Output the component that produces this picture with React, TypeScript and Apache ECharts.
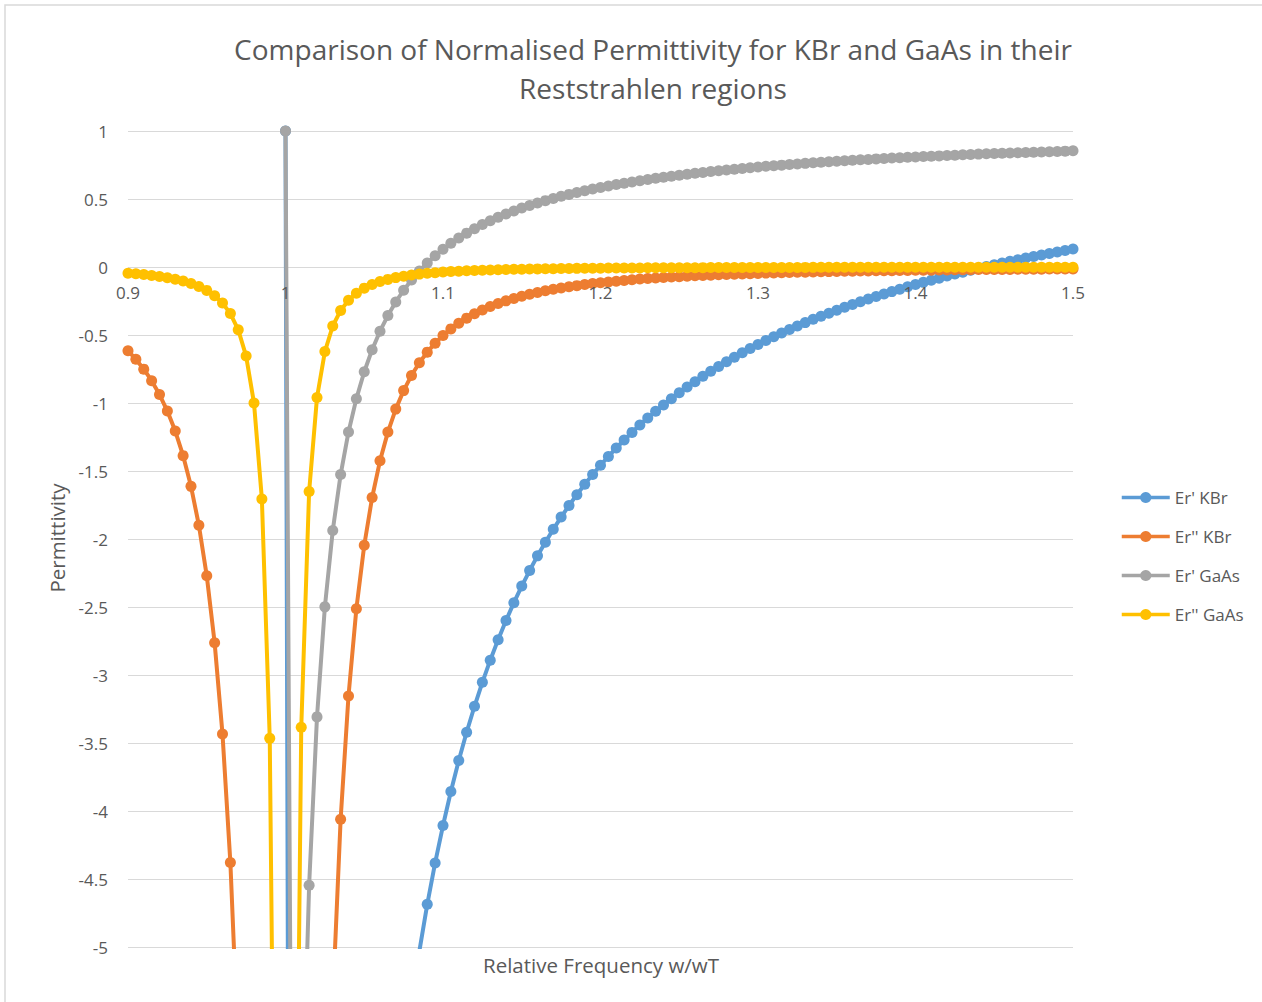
import React, { useEffect, useRef } from "react";
import * as echarts from "echarts";

// Relative frequency w/wT (x values of every point)
const X_VALUES = [
  0.9, 0.905, 0.91, 0.915, 0.92, 0.925, 0.93, 0.935, 0.94, 0.945,
  0.95, 0.955, 0.96, 0.965, 0.97, 0.975, 0.98, 0.985, 0.99, 0.995,
  1.0,
  1.005, 1.01, 1.015, 1.02, 1.025, 1.03, 1.035, 1.04, 1.045, 1.05,
  1.055, 1.06, 1.065, 1.07, 1.075, 1.08, 1.085, 1.09, 1.095, 1.1,
  1.105, 1.11, 1.115, 1.12, 1.125, 1.13, 1.135, 1.14, 1.145, 1.15,
  1.155, 1.16, 1.165, 1.17, 1.175, 1.18, 1.185, 1.19, 1.195, 1.2,
  1.205, 1.21, 1.215, 1.22, 1.225, 1.23, 1.235, 1.24, 1.245, 1.25,
  1.255, 1.26, 1.265, 1.27, 1.275, 1.28, 1.285, 1.29, 1.295, 1.3,
  1.305, 1.31, 1.315, 1.32, 1.325, 1.33, 1.335, 1.34, 1.345, 1.35,
  1.355, 1.36, 1.365, 1.37, 1.375, 1.38, 1.385, 1.39, 1.395, 1.4,
  1.405, 1.41, 1.415, 1.42, 1.425, 1.43, 1.435, 1.44, 1.445, 1.45,
  1.455, 1.46, 1.465, 1.47, 1.475, 1.48, 1.485, 1.49, 1.495, 1.5,
];

// Er' KBr
const ER1_KBR = [
  6.66, 6.93, 7.24, 7.58, 7.96, 8.39, 8.87, 9.43, 10.07, 10.81,
  11.69, 12.74, 14.0, 15.55, 17.46, 19.83, 22.71, 25.81, 27.49, 21.67,
  1,
  -19.43, -24.93, -23.2, -20.1, -17.23, -14.87, -12.97, -11.43, -10.17, -9.13,
  -8.25, -7.51, -6.87, -6.32, -5.83, -5.41, -5.03, -4.686, -4.382, -4.107,
  -3.857, -3.629, -3.421, -3.23, -3.054, -2.891, -2.74, -2.599, -2.468, -2.346,
  -2.232, -2.124, -2.024, -1.929, -1.839, -1.754, -1.674, -1.598, -1.526, -1.458,
  -1.393, -1.331, -1.272, -1.216, -1.162, -1.11, -1.061, -1.014, -0.968, -0.925,
  -0.883, -0.843, -0.804, -0.767, -0.731, -0.697, -0.663, -0.631, -0.6, -0.57,
  -0.541, -0.513, -0.486, -0.46, -0.434, -0.409, -0.385, -0.362, -0.34, -0.318,
  -0.296, -0.276, -0.256, -0.236, -0.217, -0.199, -0.181, -0.163, -0.146, -0.129,
  -0.113, -0.097, -0.082, -0.067, -0.052, -0.038, -0.024, -0.01, 0.004, 0.017,
  0.029, 0.042, 0.054, 0.066, 0.078, 0.089, 0.1, 0.111, 0.122, 0.133,
];

// Er'' KBr
const ER2_KBR = [
  -0.616, -0.678, -0.751, -0.836, -0.938, -1.059, -1.206, -1.387, -1.613, -1.899,
  -2.271, -2.763, -3.434, -4.379, -5.765, -7.894, -11.35, -17.25, -27.56, -42.9,
  -52.48,
  -42.18, -26.71, -16.58, -10.81, -7.454, -5.395, -4.061, -3.154, -2.513, -2.046,
  -1.695, -1.425, -1.214, -1.045, -0.909, -0.797, -0.704, -0.626, -0.56, -0.503,
  -0.455, -0.413, -0.376, -0.344, -0.316, -0.291, -0.269, -0.249, -0.231, -0.215,
  -0.2, -0.187, -0.175, -0.164, -0.154, -0.145, -0.137, -0.129, -0.122, -0.116,
  -0.11, -0.104, -0.099, -0.094, -0.089, -0.085, -0.081, -0.078, -0.074, -0.071,
  -0.068, -0.065, -0.062, -0.06, -0.057, -0.055, -0.053, -0.051, -0.049, -0.047,
  -0.045, -0.044, -0.042, -0.041, -0.039, -0.038, -0.037, -0.035, -0.034, -0.033,
  -0.032, -0.031, -0.03, -0.029, -0.028, -0.027, -0.027, -0.026, -0.025, -0.024,
  -0.024, -0.023, -0.022, -0.022, -0.021, -0.021, -0.02, -0.019, -0.019, -0.018,
  -0.018, -0.018, -0.017, -0.017, -0.016, -0.016, -0.015, -0.015, -0.015, -0.014,
];

// Er' GaAs
const ER1_GAAS = [
  1.961, 2.009, 2.062, 2.121, 2.188, 2.263, 2.349, 2.449, 2.564, 2.7,
  2.863, 3.06, 3.306, 3.619, 4.03, 4.593, 5.403, 6.643, 8.66, 11.158,
  1,
  -9.064, -6.559, -4.546, -3.308, -2.499, -1.937, -1.526, -1.213, -0.968, -0.77,
  -0.608, -0.472, -0.357, -0.257, -0.171, -0.096, -0.029, 0.03, 0.083, 0.131,
  0.174, 0.213, 0.249, 0.282, 0.312, 0.34, 0.366, 0.39, 0.412, 0.433,
  0.453, 0.471, 0.488, 0.504, 0.52, 0.534, 0.548, 0.561, 0.573, 0.584,
  0.595, 0.606, 0.616, 0.625, 0.635, 0.643, 0.652, 0.66, 0.667, 0.675,
  0.682, 0.689, 0.695, 0.702, 0.708, 0.713, 0.719, 0.725, 0.73, 0.735,
  0.74, 0.745, 0.749, 0.754, 0.758, 0.762, 0.766, 0.77, 0.774, 0.778,
  0.781, 0.785, 0.788, 0.791, 0.795, 0.798, 0.801, 0.804, 0.807, 0.809,
  0.812, 0.815, 0.817, 0.82, 0.822, 0.825, 0.827, 0.83, 0.832, 0.834,
  0.836, 0.838, 0.84, 0.842, 0.844, 0.846, 0.848, 0.85, 0.852, 0.854,
];

// Er'' GaAs
const ER2_GAAS = [
  -0.0455, -0.0502, -0.0556, -0.062, -0.0696, -0.0788, -0.0899, -0.1037, -0.1209, -0.143,
  -0.1719, -0.2108, -0.2647, -0.3427, -0.4615, -0.6549, -1.0007, -1.7057, -3.4645, -9.165,
  -20.33,
  -9.035, -3.385, -1.6513, -0.9596, -0.622, -0.434, -0.3192, -0.2441, -0.1925, -0.1554,
  -0.128, -0.1072, -0.091, -0.0781, -0.0677, -0.0593, -0.0523, -0.0464, -0.0415, -0.0373,
  -0.0336, -0.0305, -0.0278, -0.0254, -0.0233, -0.0215, -0.0198, -0.0183, -0.017, -0.0158,
  -0.0147, -0.0138, -0.0129, -0.0121, -0.0114, -0.0107, -0.0101, -0.0095, -0.009, -0.0085,
  -0.0081, -0.0076, -0.0073, -0.0069, -0.0066, -0.0063, -0.006, -0.0057, -0.0054, -0.0052,
  -0.005, -0.0048, -0.0046, -0.0044, -0.0042, -0.004, -0.0039, -0.0037, -0.0036, -0.0035,
  -0.0033, -0.0032, -0.0031, -0.003, -0.0029, -0.0028, -0.0027, -0.0026, -0.0025, -0.0024,
  -0.0024, -0.0023, -0.0022, -0.0021, -0.0021, -0.002, -0.002, -0.0019, -0.0018, -0.0018,
  -0.0017, -0.0017, -0.0016, -0.0016, -0.0016, -0.0015, -0.0015, -0.0014, -0.0014, -0.0014,
  -0.0013, -0.0013, -0.0013, -0.0012, -0.0012, -0.0012, -0.0011, -0.0011, -0.0011, -0.0011,
];

const SERIES_NAMES = ["Er' KBr", "Er'' KBr", "Er' GaAs", "Er'' GaAs"];
const SERIES_VALUES = [ER1_KBR, ER2_KBR, ER1_GAAS, ER2_GAAS];
const COLORS = ["#5B9BD5", "#ED7D31", "#A5A5A5", "#FFC000"];

const TITLE_LINES = [
  "Comparison of Normalised Permittivity for KBr and GaAs in their",
  "Reststrahlen regions",
];
const X_TITLE = "Relative Frequency w/wT";
const Y_TITLE = "Permittivity";

const GRID_TOP = 131;
const GRID_BOTTOM = 55;
const CHART_H = 1002;
const Y_MIN = -5;
const Y_MAX = 1;

export default function App() {
  const ref = useRef<HTMLDivElement>(null);

  useEffect(() => {
    if (!ref.current) return;
    const chart = echarts.init(ref.current, null, { renderer: "svg" });
    const font = "'Open Sans', 'Noto Sans', sans-serif";
    const textColor = "#595959";

    // distance from the plot bottom up to the y = 0 line (x axis crosses there)
    const plotH = CHART_H - GRID_TOP - GRID_BOTTOM;
    const zeroUp = (plotH * (0 - Y_MIN)) / (Y_MAX - Y_MIN);

    chart.setOption({
      animation: false,
      backgroundColor: "#ffffff",
      grid: { left: 128, right: 189, top: GRID_TOP, bottom: GRID_BOTTOM },
      xAxis: {
        type: "value",
        min: 0.9,
        max: 1.5,
        interval: 0.1,
        position: "bottom",
        offset: -zeroUp,
        z: 10,
        axisLine: { show: false, onZero: false },
        axisTick: { show: false },
        splitLine: { show: false },
        axisLabel: { color: textColor, fontSize: 17, fontFamily: font, margin: 17 },
      },
      yAxis: {
        type: "value",
        min: Y_MIN,
        max: Y_MAX,
        interval: 0.5,
        axisLine: { show: false },
        axisTick: { show: false },
        splitLine: { lineStyle: { color: "#d9d9d9", width: 1 } },
        axisLabel: { color: textColor, fontSize: 17, fontFamily: font, margin: 20 },
      },
      legend: {
        orient: "vertical",
        left: 1120,
        top: 489,
        padding: 0,
        itemWidth: 48,
        itemHeight: 14,
        itemGap: 22,
        selectedMode: false,
        data: SERIES_NAMES,
        lineStyle: { width: 3.5 },
        textStyle: { color: textColor, fontSize: 17, fontFamily: font },
      },
      series: SERIES_VALUES.map((vals, k) => ({
        name: SERIES_NAMES[k],
        type: "line",
        data: X_VALUES.map((x, i) => [x, vals[i]]),
        symbol: "circle",
        symbolSize: 11,
        showSymbol: true,
        showAllSymbol: true,
        clip: true,
        silent: true,
        z: 2 + k,
        lineStyle: { width: 4, color: COLORS[k] },
        itemStyle: { color: COLORS[k], borderWidth: 0 },
        emphasis: { disabled: true },
      })),
      graphic: [
        {
          type: "rect",
          silent: true,
          shape: { x: 5, y: 5, width: 1400, height: 1200 },
          style: { fill: "none", stroke: "#d9d9d9", lineWidth: 1.5 },
          z: -10,
        },
        {
          type: "text",
          x: 653,
          y: 49,
          style: {
            text: TITLE_LINES[0],
            align: "center",
            verticalAlign: "middle",
            fill: textColor,
            fontSize: 28,
            fontFamily: font,
          },
        },
        {
          type: "text",
          x: 653,
          y: 88,
          style: {
            text: TITLE_LINES[1],
            align: "center",
            verticalAlign: "middle",
            fill: textColor,
            fontSize: 28,
            fontFamily: font,
          },
        },
        {
          type: "text",
          x: 601,
          y: 965,
          style: {
            text: X_TITLE,
            align: "center",
            verticalAlign: "middle",
            fill: textColor,
            fontSize: 20.5,
            fontFamily: font,
          },
        },
        {
          type: "text",
          x: 57,
          y: 538,
          rotation: Math.PI / 2,
          style: {
            text: Y_TITLE,
            align: "center",
            verticalAlign: "middle",
            fill: textColor,
            fontSize: 20.5,
            fontFamily: font,
          },
        },
      ],
    });

    return () => chart.dispose();
  }, []);

  return (
    <div
      ref={ref}
      style={{ position: "absolute", left: 0, top: 0, width: 1262, height: 1002 }}
    />
  );
}
